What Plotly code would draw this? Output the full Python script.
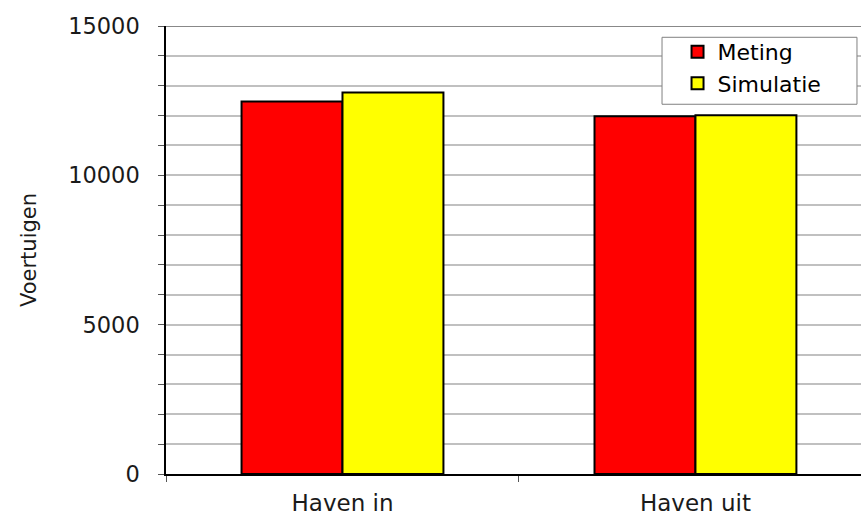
import plotly.graph_objects as go

categories = ["Haven in", "Haven uit"]
meting = [12470, 11980]
simulatie = [12770, 12010]
y_tick_values = list(range(0, 15001, 1000))
y_tick_labels = [str(v) if v % 5000 == 0 else "" for v in y_tick_values]

font = "DejaVu Sans, Verdana, sans-serif"

fig = go.Figure()
fig.add_trace(go.Bar(name="Meting", x=categories, y=meting,
                     marker=dict(color="#ff0000", line=dict(color="black", width=2))))
fig.add_trace(go.Bar(name="Simulatie", x=categories, y=simulatie,
                     marker=dict(color="#ffff00", line=dict(color="black", width=2))))

fig.update_layout(
    width=861, height=517,
    margin=dict(l=166, r=0, t=26, b=43),
    paper_bgcolor="white", plot_bgcolor="white",
    barmode="group", bargap=0.428, bargroupgap=0,
    font=dict(family=font, size=22, color="black"),
    legend=dict(x=0.713, y=0.989, xanchor="left", yanchor="top",
                bgcolor="rgba(0,0,0,0)", borderwidth=0,
                font=dict(family=font, size=22, color="black"), tracegroupgap=0,
                indentation=16),
    xaxis=dict(range=[-0.5, 1.469], showline=True, linecolor="black", linewidth=1.5,
               ticks="outside", tickson="boundaries", ticklen=6, tickcolor="#555",
               showgrid=False, ticklabelstandoff=8, automargin=False,
               tickfont=dict(family=font, size=23, color="#1a1a1a")),
    yaxis=dict(range=[0, 15000], tickvals=y_tick_values, ticktext=y_tick_labels,
               showline=True, linecolor="black", linewidth=1.5,
               ticks="outside", ticklen=6, tickcolor="#555",
               showgrid=True, gridcolor="#c0c0c0", gridwidth=1.5,
               zeroline=False, ticklabelstandoff=14, automargin=False,
               tickfont=dict(family=font, size=22.5, color="#1a1a1a"),
               title=dict(text="Voertuigen", standoff=26,
                          font=dict(family=font, size=21, color="#1a1a1a"))),
    showlegend=True,
)
fig.add_shape(type="line", xref="paper", yref="y", x0=0, x1=1, y0=15000, y1=15000,
              line=dict(color="#606060", width=1.5))
fig.add_shape(type="rect", xref="paper", yref="paper", x0=0.7137, x1=0.9942,
              y0=0.8253, y1=0.9748, fillcolor="white", layer="above",
              line=dict(color="#808080", width=1))
fig.write_html("out.html")
